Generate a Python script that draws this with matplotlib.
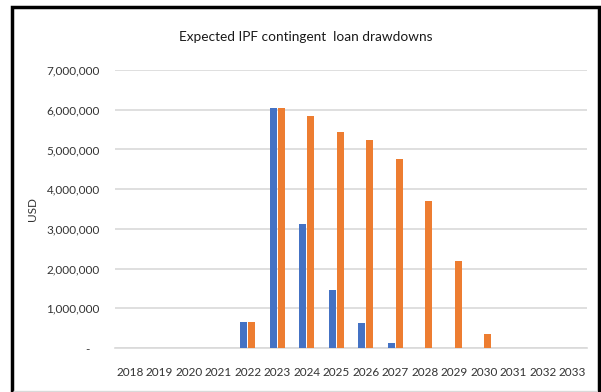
import matplotlib.pyplot as plt
import matplotlib.ticker as mticker
import numpy as np
from matplotlib.patches import Rectangle

# Yearly drawdowns (USD) for the two scenarios
years = [str(y) for y in range(2018, 2034)]
series_blue = [0, 0, 0, 0, 650000, 6040000, 3120000, 1460000, 620000, 120000,
               0, 0, 0, 0, 0, 0]
series_orange = [0, 0, 0, 0, 650000, 6040000, 5840000, 5430000, 5240000, 4760000,
                 3690000, 2200000, 350000, 0, 0, 0]

plt.rcParams['font.family'] = ['Lato', 'DejaVu Sans']
text_col = '#333333'

fig = plt.figure(figsize=(6.01, 3.92), dpi=100)
ax = fig.add_axes([0.1913, 0.1122, 0.7854, 0.7092])

x = np.arange(len(years))
w = 0.235
ax.bar(x - 0.142, series_blue, width=w, color='#4472C4', zorder=3)
ax.bar(x + 0.142, series_orange, width=w, color='#ED7D31', zorder=3)

ax.set_xlim(-0.5, len(years) - 0.5)
ax.set_ylim(0, 7000000)
ax.set_xticks(x)
ax.set_xticklabels(years)
ax.yaxis.set_major_locator(mticker.MultipleLocator(1000000))
ax.yaxis.set_major_formatter(mticker.FuncFormatter(
    lambda v, pos: '-   ' if v == 0 else f'{v:,.0f}'))

ax.grid(axis='y', color='#D9D9D9', linewidth=1.2, zorder=0)
for side in ['top', 'right', 'left']:
    ax.spines[side].set_visible(False)
ax.spines['bottom'].set_color('#D9D9D9')
ax.spines['bottom'].set_linewidth(1.2)
ax.tick_params(axis='both', length=0, labelsize=8.5, colors=text_col)
ax.tick_params(axis='y', pad=11)
ax.tick_params(axis='x', pad=14)

ax.set_ylabel('USD', fontsize=8.5, color=text_col, labelpad=6)
fig.text(306 / 601, 0.906, 'Expected IPF contingent  loan drawdowns',
         ha='center', va='center', fontsize=9.8, color='#1a1a1a')

# Frame around the chart area
fig.patches.append(Rectangle((11.5 / 601, -0.01), 587 / 601, (392 - 7) / 392 + 0.01,
                             transform=fig.transFigure, fill=False,
                             edgecolor='black', linewidth=2.5))
fig.patches.append(Rectangle((13 / 601, 1 / 392), 584 / 601, 0,
                             transform=fig.transFigure, fill=False,
                             edgecolor='#D9D9D9', linewidth=1))

fig.savefig('out.png', dpi=100)
